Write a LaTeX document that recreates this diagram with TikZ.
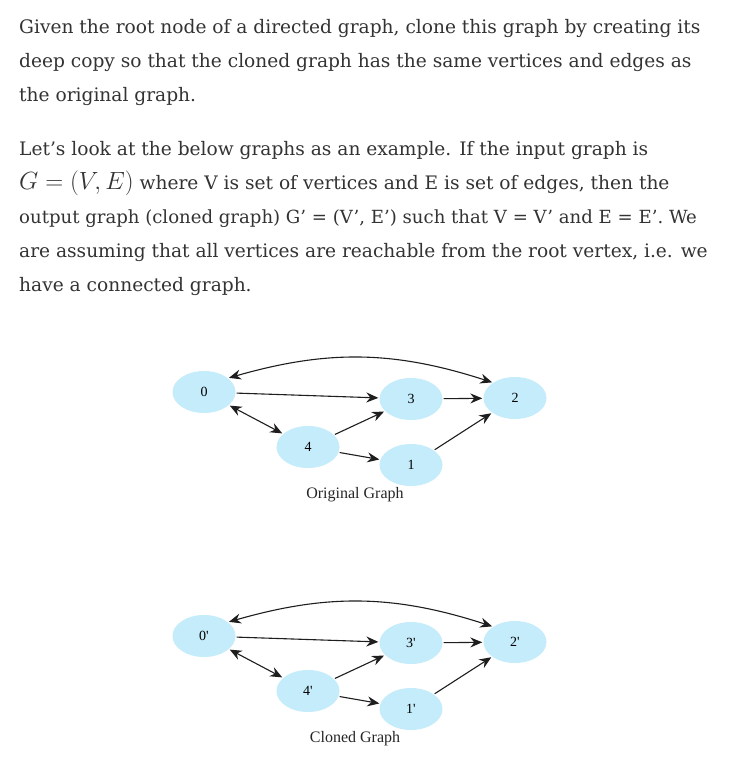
\documentclass[tikz,border=0pt]{standalone}
\usepackage{fontspec}
\setmainfont{DejaVu Serif}
\newfontfamily\graphfont{Liberation Serif}
\usetikzlibrary{shapes.geometric,arrows.meta}
\definecolor{bodytext}{HTML}{333333}
\definecolor{nodeblue}{HTML}{C5ECFB}
\definecolor{edgegray}{HTML}{1E1E1E}
\tikzset{
  para/.style={anchor=base west, inner sep=0, text=bodytext, font=\fontsize{18.6}{20}\selectfont},
  vtx/.style={ellipse, fill=nodeblue, minimum width=63, minimum height=42, inner sep=0, font=\graphfont\fontsize{14}{14}\selectfont},
  edge/.style={-{Stealth[length=12,width=10,inset=4]}, line width=1.1, draw=edgegray, shorten >=1, shorten <=1},
  both/.style={{Stealth[length=12,width=10,inset=4]}-{Stealth[length=12,width=10,inset=4]}},
  caption/.style={font=\graphfont\fontsize{16}{16}\selectfont, text=black!85}
}
\begin{document}
\begin{tikzpicture}[x=1pt,y=-1pt]
\fill[white] (0,0) rectangle (729,782);
% text above the graphs
\node[para] (l1) at (19,33) {Given the root node of a directed graph, clone this graph by creating its};
\node[para] (l2) at (19,67) {deep copy so that the cloned graph has the same vertices and edges as};
\node[para] (l3) at (19,101) {the original graph.};
\node[para] (l4) at (19,155) {Let’s look at the below graphs as an example. If the input graph is};
\node[para] (l5) at (19,189) {{\fontsize{25}{26}\selectfont$G=(V,E)$} where V is set of vertices and E is set of edges, then the};
\node[para,font=\fontsize{18.1}{20}\selectfont] (l6) at (19,223) {output graph (cloned graph) G’ = (V’, E’) such that V = V’ and E = E’. We};
\node[para] (l7) at (19,257) {are assuming that all vertices are reachable from the root vertex, i.e. we};
\node[para] (l8) at (19,291) {have a connected graph.};
% the two graphs
\foreach \g/\dy/\p/\cap in {o/0/{}/Original Graph, c/244/'/Cloned Graph}{
  \begin{scope}[yshift=-\dy pt]
  \node[vtx] (\g0) at (204,392) {0\p};
  \node[vtx] (\g3) at (411,399) {3\p};
  \node[vtx] (\g2) at (515,398) {2\p};
  \node[vtx] (\g4) at (308,447) {4\p};
  \node[vtx] (\g1) at (411,465) {1\p};
  \node[caption] (\g cap) at (355,495) {\cap};
  \draw[edge] (\g0) -- (\g3);
  \draw[edge] (\g3) -- (\g2);
  \draw[edge] (\g4) -- (\g3);
  \draw[edge] (\g4) -- (\g1);
  \draw[edge] (\g1) -- (\g2);
  \draw[edge,both] (\g0) -- (\g4);
  \draw[edge,both] (\g0.30) to[bend left=17] (\g2.145);
  \end{scope}
}
\end{tikzpicture}
\end{document}
